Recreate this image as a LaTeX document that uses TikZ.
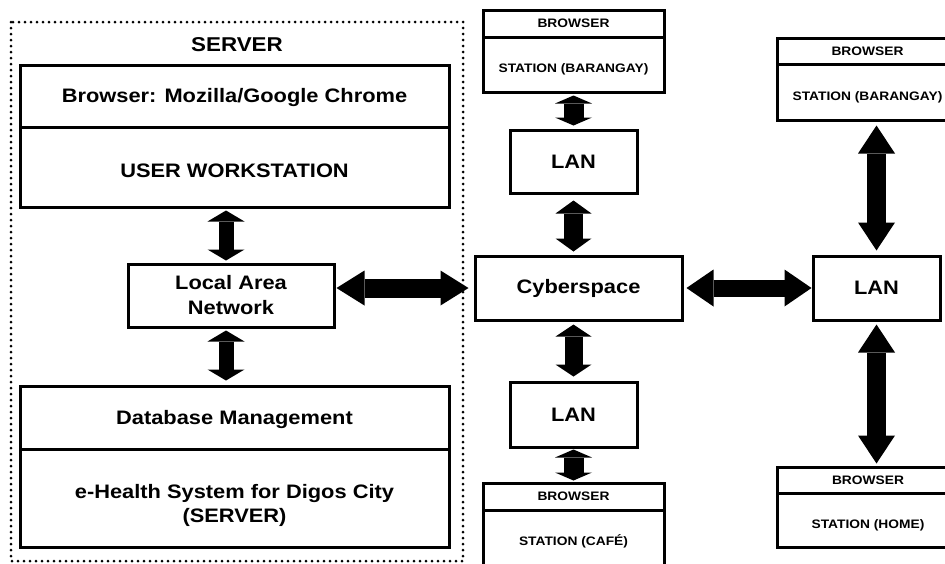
\documentclass[tikz,border=0pt]{standalone}
\usepackage{fontspec}
\setmainfont{Liberation Sans}[FakeStretch=1.12]
\usetikzlibrary{arrows.meta,calc}
\tikzset{
  box/.style={draw, line width=3pt, rectangle, inner sep=0pt, align=center,
    font=\bfseries\fontsize{19.5}{25}\selectfont},
  smallbox/.style={box, font=\bfseries\fontsize{12.3}{14}\selectfont},
  fat/.style n args={3}{line width=#1, line cap=butt,
    arrows={Triangle[length=#2,width=#3,line width=0pt]-Triangle[length=#2,width=#3,line width=0pt]}},
  dotborder/.style={line width=3pt, line cap=round, dash pattern=on 0pt off 6pt}
}
\newcommand{\lowtext}[2]{\raisebox{-#1pt}[\height][\depth]{#2}}
\begin{document}
\begin{tikzpicture}[x=1pt,y=-1pt]
\useasboundingbox (0,0) rectangle (945,563);
\clip (0,0) rectangle (945,563);
\fill[white] (0,0) rectangle (945,563);
% server group
\draw[dotborder] (11,22) rectangle (463,561);
\node[font=\bfseries\fontsize{20}{24}\selectfont] (srvlbl) at (237,45) {SERVER};
\node[box, minimum width=429pt, minimum height=62pt] (ws1) at (234.5,96) {\lowtext{1}{Browser: Mozilla/Google Chrome}};
\node[box, minimum width=429pt, minimum height=80pt] (ws2) at (234.5,167) {\lowtext{4}{USER WORKSTATION}};
\node[box, minimum width=206pt, minimum height=63pt] (lan0) at (231,295.5) {Local Area\\Network};
\node[box, minimum width=429pt, minimum height=63pt] (db1) at (234.5,417.5) {\lowtext{1.5}{Database Management}};
\node[box, minimum width=429pt, minimum height=98pt] (db2) at (234.5,498) {\lowtext{7}{\begin{tabular}{@{}c@{}}e-Health System for Digos City\\[-1pt](SERVER)\end{tabular}}};
% middle column
\node[smallbox, minimum width=181pt, minimum height=27pt] (b1a) at (573.5,23.5) {BROWSER};
\node[smallbox, minimum width=181pt, minimum height=55pt] (b1b) at (573.5,64.5) {\lowtext{5}{STATION (BARANGAY)}};
\node[box, minimum width=127pt, minimum height=63pt] (lan1) at (573.5,161.5) {LAN};
\node[box, minimum width=207pt, minimum height=64pt] (cyber) at (578.5,288) {Cyberspace};
\node[box, minimum width=127pt, minimum height=65pt] (lan2) at (573.5,414.5) {LAN};
\node[smallbox, minimum width=181pt, minimum height=27pt] (b3a) at (573.5,496.5) {BROWSER};
\node[smallbox, minimum width=181pt, minimum height=62pt] (b3b) at (573.5,541) {STATION (CAFÉ)};
% right column
\node[box, minimum width=127pt, minimum height=64pt] (lanR) at (876.5,288) {LAN};
\node[smallbox, minimum width=181pt, minimum height=26pt] (b2a) at (867.5,51) {BROWSER};
\node[smallbox, minimum width=181pt, minimum height=56pt] (b2b) at (867.5,92) {\lowtext{5}{STATION (BARANGAY)}};
\node[smallbox, minimum width=181pt, minimum height=26pt] (b4a) at (868,480) {BROWSER};
\node[smallbox, minimum width=181pt, minimum height=54pt] (b4b) at (868,520) {\lowtext{5}{STATION (HOME)}};
% arrows
\draw[fat={15pt}{11pt}{37pt}] ($(ws2.south -| lan0.north)+(-5,2)$) -- ($(lan0.north)+(-5,-2)$);
\draw[fat={15pt}{11pt}{37pt}] ($(lan0.south)+(-5,2)$) -- ($(db1.north -| lan0.south)+(-5,-4)$);
\draw[fat={19pt}{28pt}{35pt}] ($(lan0.east |- cyber.west)+(1,0)$) -- ($(cyber.west)+(-5,0)$);
\draw[fat={17pt}{27pt}{37pt}] ($(cyber.east)+(3,0)$) -- (lanR.west);
\draw[fat={20pt}{8pt}{37pt}] ($(b1b.south)+(0,2)$) -- ($(lan1.north)+(0,-3)$);
\draw[fat={19pt}{13pt}{36pt}] ($(lan1.south)+(0,6)$) -- ($(cyber.north -| lan1.south)+(0,-3)$);
\draw[fat={18pt}{12pt}{36pt}] ($(cyber.south -| lan2.north)+(0,3)$) -- ($(lan2.north)+(0,-4)$);
\draw[fat={20pt}{8pt}{37pt}] ($(lan2.south)+(0,1)$) -- ($(b3a.north)+(0,-1)$);
\draw[fat={19pt}{28pt}{37pt}] ($(b2b.south -| lanR.north)+(0,4)$) -- ($(lanR.north)+(0,-4)$);
\draw[fat={19pt}{28pt}{37pt}] ($(lanR.south)+(0,3)$) -- ($(b4a.north -| lanR.south)+(0,-2)$);
\end{tikzpicture}
\end{document}
